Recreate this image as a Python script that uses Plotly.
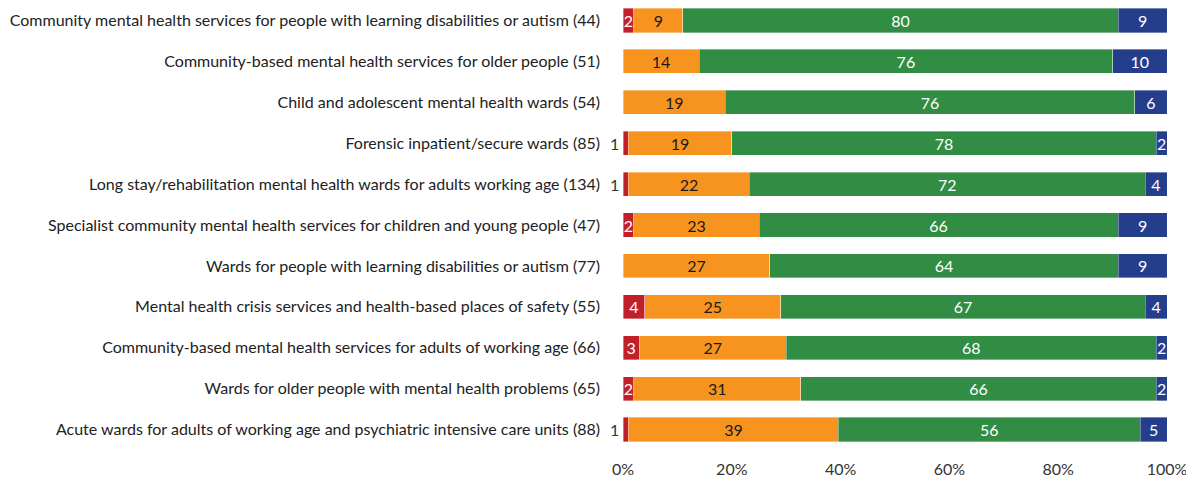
import plotly.graph_objects as go

categories = [
    "Community mental health services for people with learning disabilities or autism (44)",
    "Community-based mental health services for older people (51)",
    "Child and adolescent mental health wards (54)",
    "Forensic inpatient/secure wards (85)",
    "Long stay/rehabilitation mental health wards for adults working age (134)",
    "Specialist community mental health services for children and young people (47)",
    "Wards for people with learning disabilities or autism (77)",
    "Mental health crisis services and health-based places of safety (55)",
    "Community-based mental health services for adults of working age (66)",
    "Wards for older people with mental health problems (65)",
    "Acute wards for adults of working age and psychiatric intensive care units (88)",
]
inadequate = [2, 0, 0, 1, 1, 2, 0, 4, 3, 2, 1]
requires_improvement = [9, 14, 19, 19, 22, 23, 27, 25, 27, 31, 39]
good = [80, 76, 76, 78, 72, 66, 64, 67, 68, 66, 56]
outstanding = [9, 10, 6, 2, 4, 9, 9, 4, 2, 2, 5]
x_ticks = [0, 20, 40, 60, 80, 100]

RED = "#C1202B"
ORANGE = "#F7941F"
GREEN = "#318C44"
BLUE = "#243E8B"
FONT = "Lato"
FS = 16

def labels(vals, inside_min=2):
    return [str(v) if v >= inside_min else "" for v in vals]

series = [
    ("Inadequate", inadequate, RED, "white"),
    ("Requires improvement", requires_improvement, ORANGE, "#1a1a1a"),
    ("Good", good, GREEN, "white"),
    ("Outstanding", outstanding, BLUE, "white"),
]

fig = go.Figure()
for name, vals, col, tcol in series:
    fig.add_trace(go.Bar(
        y=categories, x=vals, name=name, orientation="h",
        marker=dict(color=col, line=dict(width=0.6, color="rgba(255,255,255,0.6)")),
        text=labels(vals), textposition="inside", insidetextanchor="middle",
        constraintext="none", textangle=0,
        textfont=dict(family=FONT, size=FS, color=tcol),
        hovertemplate="%{y}: %{x}<extra>" + name + "</extra>"))

# value 1 for the red segment is written just left of the bar
for cat, v in zip(categories, inadequate):
    if v == 1:
        fig.add_annotation(x=0, y=cat, xref="x", yref="y", text=str(v),
                           showarrow=False, xanchor="right", xshift=-2,
                           font=dict(family=FONT, size=FS, color="#333333"))

fig.update_layout(
    width=1186, height=478, barmode="stack", barnorm="percent", bargap=0.41,
    showlegend=False, plot_bgcolor="white", paper_bgcolor="white",
    margin=dict(l=623, r=19, t=0, b=28),
    font=dict(family=FONT, size=FS, color="#222222"),
    xaxis=dict(range=[0, 100], tickvals=x_ticks, ticktext=[f"{t}%" for t in x_ticks],
               showgrid=False, zeroline=False, showline=False, ticklabelstandoff=8,
               ticklabeloverflow="allow", automargin=False,
               tickfont=dict(size=FS, color="#333333")),
    yaxis=dict(autorange="reversed", showgrid=False, ticks="", ticklabelstandoff=22,
               tickfont=dict(size=FS, color="#222222")),
)

fig.write_html("out.html", config={"displayModeBar": False},
               post_script="document.body.style.margin='0';")
